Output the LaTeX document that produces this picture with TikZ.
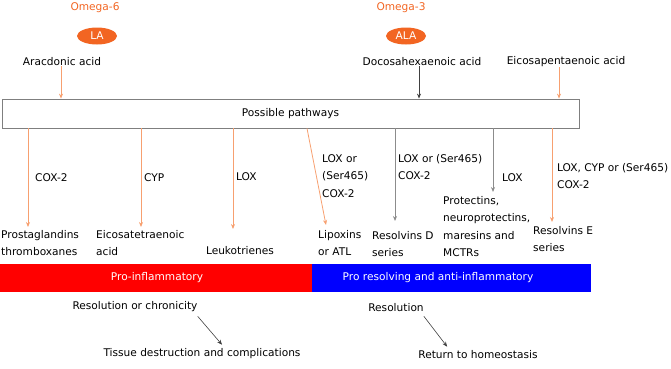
\documentclass[tikz,border=0pt]{standalone}
\usepackage{fontspec}
\setmainfont{DejaVu Sans}
\usetikzlibrary{shapes.geometric,arrows.meta}
\definecolor{omegaorange}{HTML}{F26522}
\definecolor{arroworange}{HTML}{F7A070}
\definecolor{arrowgray}{HTML}{8C8C8C}
\definecolor{arrowdark}{HTML}{404040}
\definecolor{boxgray}{HTML}{7F7F7F}
\definecolor{proinfl}{HTML}{FF0000}
\definecolor{proresolv}{HTML}{0000FF}

\begin{document}
\begin{tikzpicture}[x=1pt, y=-1pt,
      every node/.style={font=\fontsize{10.6}{17.5}\selectfont, inner sep=0pt},
      txt/.style={anchor=west, align=left},
      omegalabel/.style={text=omegaorange},
      acidoval/.style={ellipse, fill=omegaorange, text=white, minimum width=40pt, minimum height=17pt},
      pathbox/.style={draw=boxgray, line width=0.8pt, minimum width=577pt, minimum height=29pt},
      bartext/.style={text=white},
      orangearrow/.style={draw=arroworange, line width=0.8pt, -{Stealth[length=5pt,width=4pt]}},
      grayarrow/.style={draw=arrowgray, line width=0.8pt, -{Stealth[length=5pt,width=4pt]}},
      darkarrow/.style={draw=arrowdark, line width=0.6pt, -{Stealth[length=5pt,width=4pt]}}]

      \useasboundingbox (0,0) rectangle (671,368);

      % Omega-6 side
      \node[omegalabel] (omega6) at (95,8) {Omega-6};
      \node[acidoval] (la) at (97,36) {LA};
      \node (ara) at (62,62) {Aracdonic acid};

      % Omega-3 side
      \node[omegalabel] (omega3) at (401,8) {Omega-3};
      \node[acidoval] (ala) at (406,36) {ALA};
      \node (dha) at (422,62) {Docosahexaenoic acid};
      \node (epa) at (566,62) {Eicosapentaenoic acid};

      % Pathway box
      \node[pathbox] (pathways) at (290.5,113.5) {Possible pathways};

      \draw[orangearrow] ([xshift=-1pt]ara.south) -- ([xshift=-1pt]ara.south |- pathways.north);
      \draw[grayarrow, draw=arrowdark] ([xshift=-3pt]dha.south) -- ([xshift=-3pt]dha.south |- pathways.north);
      \draw[orangearrow] ([xshift=-7pt]epa.south) -- ([xshift=-7pt]epa.south |- pathways.north);

      % Enzymes
      \node[txt] (cox) at (35,178) {COX-2};
      \node[txt] (cyp) at (144,178) {CYP};
      \node[txt] (loxa) at (236,177) {LOX};
      \node[txt] (loxb) at (322,176) {LOX or\\(Ser465)\\COX-2};
      \node[txt] (loxc) at (398,167) {LOX or (Ser465)\\COX-2};
      \node[txt] (loxd) at (502,178) {LOX};
      \node[txt] (loxe) at (557,176) {LOX, CYP or (Ser465)\\COX-2};

      % Mediators
      \node[txt] (prost) at (1,243) {Prostaglandins\\thromboxanes};
      \node[txt] (eicosa) at (96,243) {Eicosatetraenoic\\acid};
      \node (leuko) at (240,251) {Leukotrienes};
      \node[txt] (lipox) at (318,243) {Lipoxins\\or ATL};
      \node[txt] (resd) at (372,244) {Resolvins D\\series};
      \node[txt] (protect) at (443,226.5) {Protectins,\\neuroprotectins,\\maresins and\\MCTRs};
      \node[txt] (rese) at (533,239) {Resolvins E\\series};

      \draw[orangearrow] (pathways.south -| 28,0) -- (28,227);
      \draw[orangearrow] (pathways.south -| 141,0) -- (141,227);
      \draw[orangearrow] (pathways.south -| 233,0) -- (233,229);
      \draw[orangearrow] (pathways.south -| 307,0) -- (326,225);
      \draw[grayarrow] (pathways.south -| 395,0) -- (395,221);
      \draw[grayarrow] (pathways.south -| 493,0) -- (493,192);
      \draw[orangearrow] (pathways.south -| 552,0) -- (552,222);

      % Bars
      \fill[proinfl] (0,264) rectangle (312,292);
      \fill[proresolv] (312,264) rectangle (591,292);
      \node[bartext] (proinfltext) at (157,278) {Pro-inflammatory};
      \node[bartext] (proresolvtext) at (438,278) {Pro resolving and anti-inflammatory};

      % Outcomes
      \node (reschron) at (135,307) {Resolution or chronicity};
      \node (tissue) at (202,354) {Tissue destruction and complications};
      \node (resol) at (396,308) {Resolution};
      \node (homeo) at (478,355) {Return to homeostasis};

      \draw[darkarrow] ([yshift=-4pt]reschron.south east) -- ([xshift=20pt, yshift=4pt]tissue.north);
      \draw[darkarrow] ([yshift=-4pt]resol.south east) -- ([xshift=29pt, yshift=4pt]homeo.north west);

    \end{tikzpicture}
\end{document}
